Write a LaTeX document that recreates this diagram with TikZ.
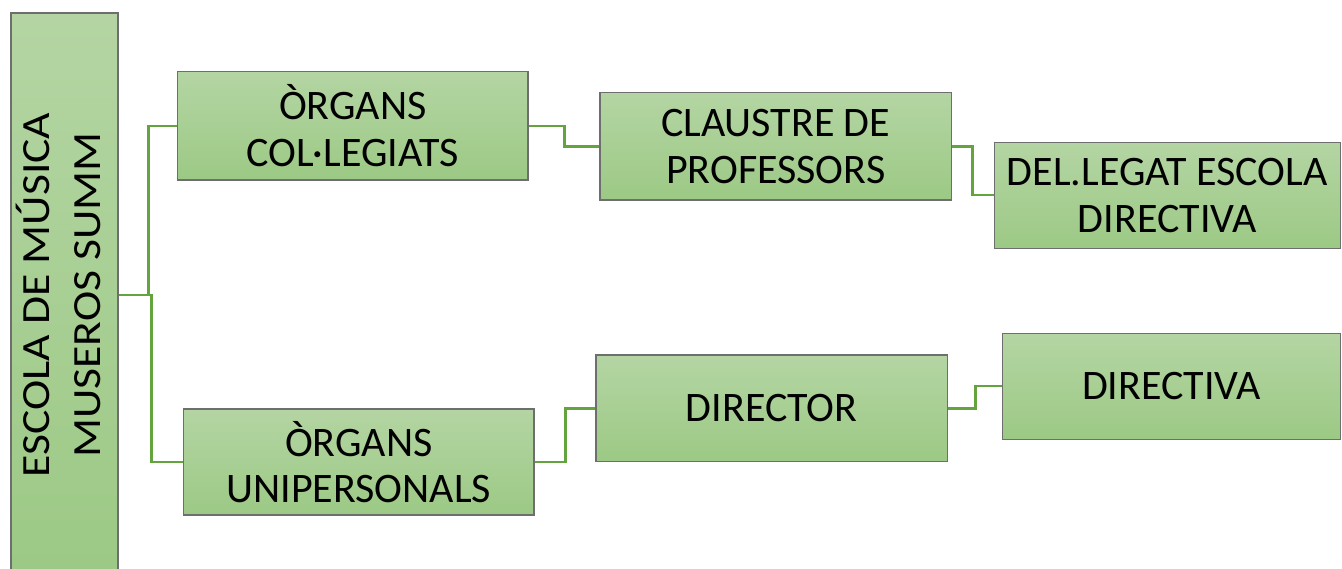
\documentclass[tikz,border=0pt]{standalone}
\usepackage{fontspec}
\setmainfont{Carlito}
\definecolor{gtop}{HTML}{B4D5A3}
\definecolor{gbot}{HTML}{9CC985}
\definecolor{bordergray}{HTML}{6E6E6E}
\definecolor{conngreen}{HTML}{64A43F}
\begin{document}
\begin{tikzpicture}[x=1pt,y=-1pt,
  box/.style={draw=bordergray, line width=1.2pt, align=center, inner sep=0pt,
    font=\fontsize{42}{46.5}\selectfont, text=black, top color=gtop, bottom color=gbot},
  vlabel/.style={rotate=90, align=center, inner sep=0pt, text=black,
    font=\fontsize{40}{51.6}\selectfont\addfontfeatures{FakeStretch=1.14}},
  conn/.style={draw=conngreen, line width=2.4pt}]
\useasboundingbox (0,0) rectangle (1342,569);
% boxes
\node[box, minimum width=107pt, minimum height=564pt] (esc) at (64.5,295) {};
\node[vlabel] (esctxt) at (58.5,295) {ESCOLA DE MÚSICA\\MUSEROS SUMM};
\node[box, minimum width=350.5pt, minimum height=108.3pt] (org1) at (352.75,125.85) {ÒRGANS\\COL·LEGIATS};
\node[box, minimum width=351.5pt, minimum height=107.3pt] (claus) at (775.75,146.35) {CLAUSTRE DE\\PROFESSORS};
\node[box, minimum width=346pt, minimum height=106pt] (del) at (1167.3,195.3) {DEL.LEGAT ESCOLA\\DIRECTIVA};
\node[box, minimum width=350.3pt, minimum height=106pt] (org2) at (358.85,462) {ÒRGANS\\UNIPERSONALS};
\node[box, minimum width=351.3pt, minimum height=106.7pt] (dir) at (771.65,408.35) {DIRECTOR};
\node[box, minimum width=337.8pt, minimum height=106pt] (dva) at (1171.6,386.3) {DIRECTIVA};
% connectors
\draw[conn] (esc.east) -- ++(30,0) |- (org1.west);
\draw[conn] (esc.east) -- ++(33,0) |- (org2.west);
\draw[conn] (org1.east) -- ++(36,0) |- (claus.west);
\draw[conn] (claus.east) -- ++(20.5,0) |- (del.west);
\draw[conn] (org2.east) -- ++(31,0) |- (dir.west);
\draw[conn] (dir.east) -- ++(27.7,0) |- (dva.west);
\end{tikzpicture}
\end{document}
